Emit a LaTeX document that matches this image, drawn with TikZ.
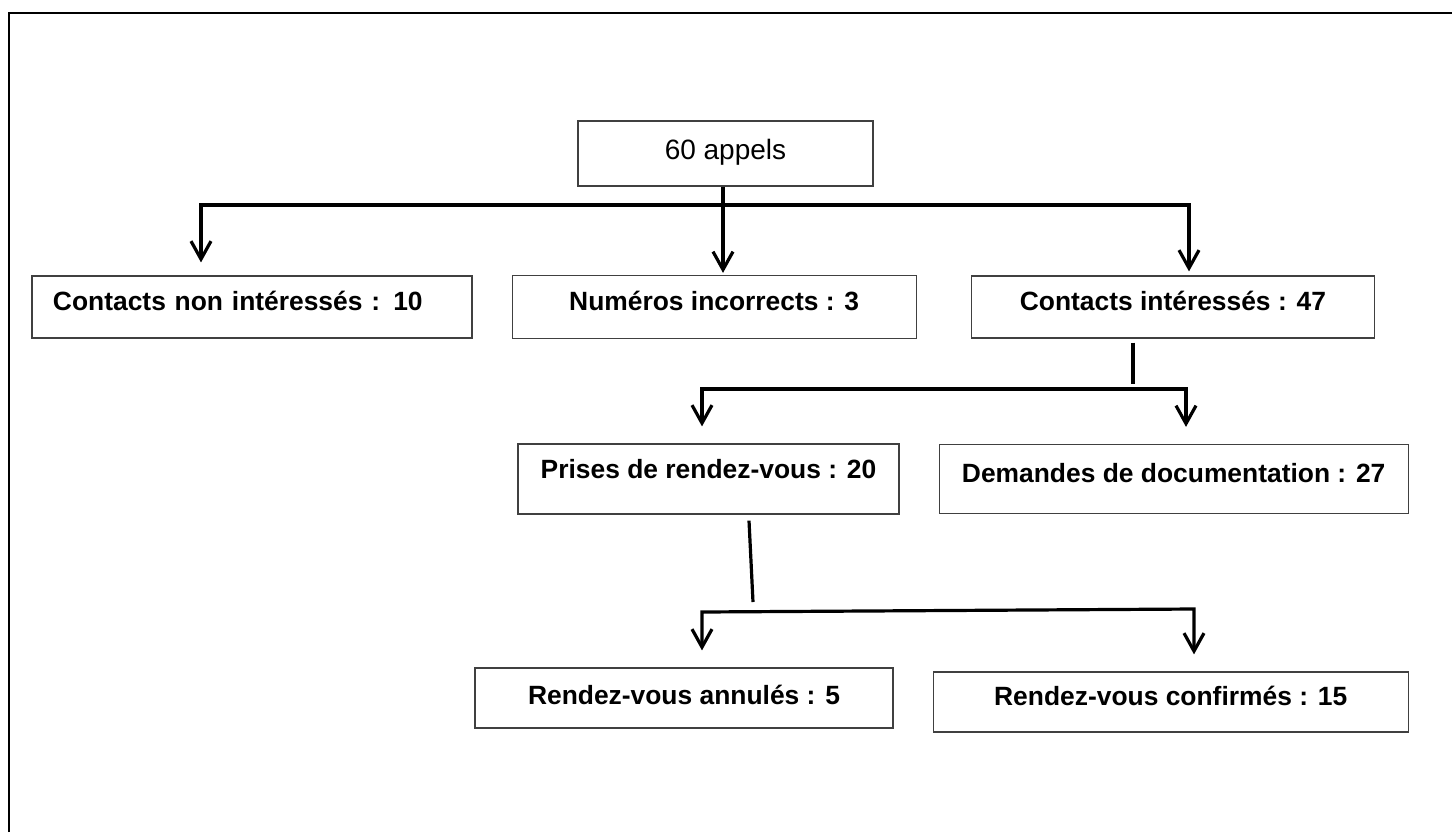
\documentclass[tikz,border=0pt]{standalone}
\usepackage{fontspec}
\setmainfont{Liberation Sans}
\usetikzlibrary{arrows.meta,positioning}

\begin{document}
\begin{tikzpicture}[x=0.5pt,y=-0.5pt,node distance=19.5pt,
    >={Straight Barb[length=9pt,width=10pt]},
    box/.style={
    % The shape:
    rectangle,inner sep=0pt,
    % The rest
    draw=black!75,line width=0.6pt,
    font=\bfseries\fontsize{13.2}{15}\selectfont,
    text height=9.5pt,text depth=6pt},
    link/.style={line width=1.6pt,line join=miter}]
    \useasboundingbox (0,0) rectangle (1452,832);
    \draw[line width=1pt] (9,832) -- (9,13) -- (1452,13);

    \node (calls) [box,minimum width=147.5pt,minimum height=32.5pt,text depth=3.5pt,
      font=\fontsize{14}{16}\selectfont] at (725.5,153.5) {60 appels};
    \node (uninterested) [box,minimum width=220pt,minimum height=31pt,
      text width=199pt,align=left,inner xsep=10.5pt] at (252,307) {Contacts non intéressés : 10};
    \node (wrongnum) [box,minimum width=202pt,minimum height=31.5pt,right=of uninterested] {Numéros incorrects : 3};
    \node (interested) [box,minimum width=201.5pt,minimum height=31pt,right=27pt of wrongnum] {Contacts intéressés : 47};
    \node (meeting) [box,minimum width=190.5pt,minimum height=35pt,text depth=10pt] at (708.5,479) {Prises de rendez-vous : 20};
    \node (docs) [box,minimum width=234.5pt,minimum height=34.5pt,right=of meeting] {Demandes de documentation : 27};
    \node (cancelled) [box,minimum width=209pt,minimum height=30pt,text depth=3pt] at (684,698) {Rendez-vous annulés : 5};
    \node (confirmed) [box,minimum width=237.5pt,minimum height=30pt,right=of cancelled,yshift=-2pt] {Rendez-vous confirmés : 15};

    % first split
    \coordinate (fork1L) at (201,205);
    \coordinate (fork1M) at (723,205);
    \coordinate (fork1R) at (1189,205);
    \draw[link,<->,shorten <=6.5pt,shorten >=2pt] (fork1L |- uninterested.north) -- (fork1L) -- (fork1R) -- (fork1R |- interested.north);
    \draw[link,->,shorten >=1pt] (calls.south -| fork1M) -- (fork1M |- wrongnum.north);

    % second split
    \coordinate (stem2) at (1133,384);
    \coordinate (fork2L) at (702,389);
    \coordinate (fork2R) at (1186,389);
    \draw[link] ([yshift=-2pt]interested.south -| stem2) -- (stem2);
    \draw[link,<->,shorten <=8.5pt,shorten >=8.5pt] (fork2L |- meeting.north) -- (fork2L) -- (fork2R) -- (fork2R |- docs.north);

    % third split
    \coordinate (stem3) at (753,602);
    \coordinate (fork3L) at (702,612);
    \coordinate (fork3R) at (1194,609);
    \draw[link] ([shift={(20.25pt,-3pt)}]meeting.south) -- (stem3);
    \draw[link,<->,shorten <=8.5pt,shorten >=8.5pt] (fork3L |- cancelled.north) -- (fork3L) -- (fork3R) -- (fork3R |- confirmed.north);
\end{tikzpicture}
\end{document}
